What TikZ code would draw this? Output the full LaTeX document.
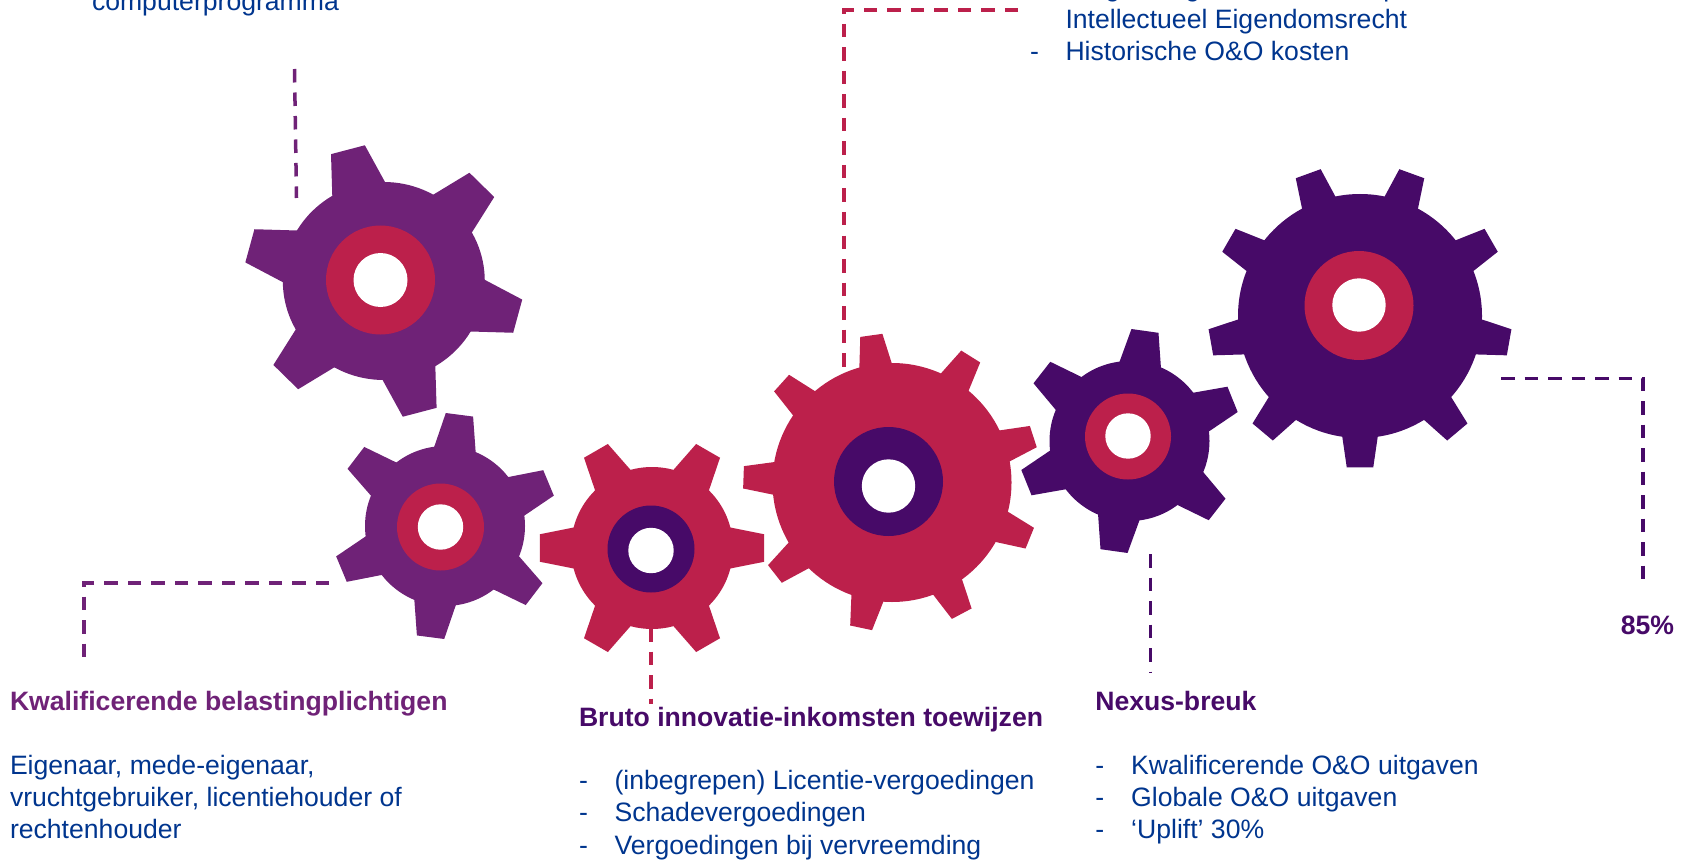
\documentclass[tikz,border=0pt]{standalone}
\usepackage{fontspec}
\setmainfont{Liberation Sans}
\definecolor{gpurple}{HTML}{6F2277}
\definecolor{gred}{HTML}{BC204B}
\definecolor{gdark}{HTML}{470A68}
\definecolor{gblue}{HTML}{00358E}
% \drawgear{cx}{cy}{R}{Rtip}{n}{phase}{basehalf}{tiphalf}{colour}
\newcommand{\drawgear}[9]{%
  \begin{scope}[shift={(#1,#2)},x=1pt,y=1pt]
    \fill[#9] (0,0) circle[radius=#3pt];
    \foreach \k in {1,...,#5}{%
      \pgfmathsetmacro{\ang}{#6+(\k-1)*360/#5}%
      \fill[#9] (\ang+#7:#3pt-1pt) -- (\ang+#8:#4pt) -- (\ang-#8:#4pt) -- (\ang-#7:#3pt-1pt) -- cycle;
    }
  \end{scope}}
% \drawhub{cx}{cy}{outer}{inner}{colour}{hole y}
\newcommand{\drawhub}[6]{%
  \fill[#5] (#1,#2) circle[radius=#3pt];
  \fill[white] (#1,#6) circle[radius=#4pt];}
\tikzset{
  body/.style={anchor=base west,inner sep=0pt,outer sep=0pt,text=gblue,font=\fontsize{26.6}{32}\selectfont},
  head/.style={anchor=base west,inner sep=0pt,outer sep=0pt,font=\fontsize{26.6}{32}\selectfont\bfseries},
  lead/.style={line width=3.5pt,dash pattern=on 13.5pt off 10pt},
}
\begin{document}
\begin{tikzpicture}[x=1pt,y=-1pt]
\useasboundingbox (0,0) rectangle (1681,861);
% connector end points
\coordinate (a1) at (294.5,69);
\coordinate (a2) at (296.5,198);
\coordinate (b1) at (1018,10);
\coordinate (b2) at (844,10);
\coordinate (b3) at (844,372);
\coordinate (c1) at (1501,378.5);
\coordinate (c2) at (1643,378.5);
\coordinate (c3) at (1643,582);
\coordinate (d1) at (1150.5,554);
\coordinate (d2) at (1150.5,673);
\coordinate (e1) at (651,628);
\coordinate (e2) at (651,704);
\coordinate (f1) at (329,583);
\coordinate (f2) at (84,583);
\coordinate (f3) at (84,657);
\draw[lead,gpurple] (a1) -- (a2);
\draw[lead,gred] (b1) -- (b2) -- (b3);
\draw[lead,gdark] (c1) -- (c2) -- (c3);
\draw[lead,gdark] (d1) -- (d2);
\draw[lead,gred] (e1) -- (e2);
\draw[lead,gpurple] (f1) -- (f2) -- (f3);
% gears
\begin{scope}[shift={(383.8,281)},xscale=1.02]
\drawgear{0}{0}{99}{137}{6}{105}{16}{7.2}{gpurple}
\end{scope}
\drawhub{380.5}{280}{54.5}{27}{gred}{280}
\drawgear{445}{526}{80}{113}{6}{82.6}{15.5}{7}{gpurple}
\drawhub{440.5}{527}{43.5}{22.7}{gred}{527}
\drawgear{652}{548}{81}{113}{6}{0}{15}{7}{gred}
\drawhub{651}{549}{43.5}{22.7}{gdark}{550.5}
\drawgear{892}{482.5}{119.5}{149}{9}{98}{8}{4.3}{gred}
\drawhub{888.5}{481.5}{54.5}{26.7}{gdark}{486}
\drawgear{1129.5}{441}{80}{112}{6}{82}{15.5}{7}{gdark}
\drawhub{1128}{436.5}{43}{22.7}{gred}{436}
\drawgear{1360}{316}{122}{152}{9}{270}{8.5}{5}{gdark}
\drawhub{1359}{305.5}{54.5}{26.7}{gred}{305}
% texts
\node[body] (t0) at (92,11) {computerprogramma};
\node[body] (t1) at (1065.5,-3) {Vergoedingen voor aankoop};
\node[body] (t2) at (1065.5,29) {Intellectueel Eigendomsrecht};
\node[body] (t3) at (1030,60.5) {-};
\node[body] (t4) at (1065.5,60.5) {Historische O\&O kosten};
\node[head,text=gpurple] (k0) at (10,710) {Kwalificerende belastingplichtigen};
\node[body] (k1) at (10,774) {Eigenaar, mede-eigenaar,};
\node[body] (k2) at (10,806) {vruchtgebruiker, licentiehouder of};
\node[body] (k3) at (10,838) {rechtenhouder};
\node[head,text=gdark] (r0) at (579,726.7) {Bruto innovatie-inkomsten toewijzen};
\node[body] (r1a) at (579,789) {-};
\node[body] (r1) at (614.6,789) {(inbegrepen) Licentie-vergoedingen};
\node[body] (r2a) at (579,821.5) {-};
\node[body] (r2) at (614.6,821.5) {Schadevergoedingen};
\node[body] (r3a) at (579,854.5) {-};
\node[body] (r3) at (614.6,854.5) {Vergoedingen bij vervreemding};
\node[head,text=gdark] (n0) at (1095.3,710.5) {Nexus-breuk};
\node[body] (n1a) at (1095.3,774) {-};
\node[body] (n1) at (1131.2,774) {Kwalificerende O\&O uitgaven};
\node[body] (n2a) at (1095.3,806) {-};
\node[body] (n2) at (1131.2,806) {Globale O\&O uitgaven};
\node[body] (n3a) at (1095.3,838) {-};
\node[body] (n3) at (1131.2,838) {‘Uplift’ 30\%};
\node[head,text=gdark] (p0) at (1620.8,634) {85\%};
\end{tikzpicture}
\end{document}
